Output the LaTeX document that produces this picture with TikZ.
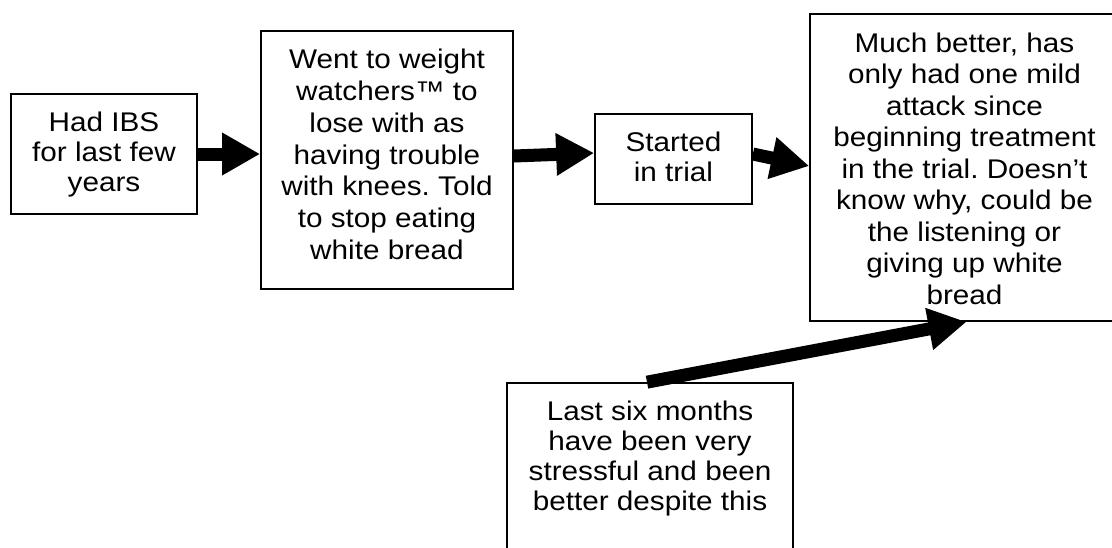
\documentclass[tikz,border=0pt]{standalone}
\usepackage{fontspec}
\setmainfont{Liberation Sans}[FakeStretch=1.1]
\usetikzlibrary{arrows.meta}
\frenchspacing
\begin{document}
\begin{tikzpicture}[x=0.5pt,y=-0.5pt,
  box/.style={draw, line width=0.85pt, rectangle, inner sep=0pt},
  txt/.style={anchor=north, align=center, inner sep=0pt,
    font=\fontsize{13.5pt}{#1}\selectfont},
  txt/.default=15pt,
  blockarrow/.style={line width=6.5pt,
    -{Triangle[length=19pt,width=20pt]}}]
\useasboundingbox (0,0) rectangle (1112,547);
\clip (0,0) rectangle (1112,547);

% boxes
\node[box, minimum width=93pt,   minimum height=60pt]   (ibs)     at (104,154)   {};
\node[box, minimum width=126pt,  minimum height=129pt]  (ww)      at (387,160)   {};
\node[box, minimum width=78.5pt, minimum height=45pt]   (trial)   at (673.5,159) {};
\node[box, minimum width=154.5pt,minimum height=153.5pt](better)  at (964.5,167.5) {};
\node[box, minimum width=143pt,  minimum height=93.5pt] (stress)  at (650,476.5) {};

% texts, hung from just below each box top
\node[txt=15pt]    (ibsT)    at ([yshift=-9.25pt]ibs.north)    {Had IBS\\for last few\\years};
\node[txt=15.9pt]  (wwT)     at ([yshift=-9.25pt]ww.north)     {Went to weight\\watchers™ to\\lose with as\\having trouble\\with knees. Told\\to stop eating\\white bread};
\node[txt=14.75pt] (trialT)  at ([yshift=-9.25pt]trial.north)  {Started\\in trial};
\node[txt=15.75pt] (betterT) at ([yshift=-9.5pt]better.north)  {Much better, has\\only had one mild\\attack since\\beginning treatment\\in the trial. Doesn’t\\know why, could be\\the listening or\\giving up white\\bread};
\node[txt=15pt]    (stressT) at ([yshift=-9pt]stress.north)    {Last six months\\have been very\\stressful and been\\better despite this};

% connectors
\draw[blockarrow] (ibs.east) -- (ibs.east -| ww.west);
\draw[blockarrow] ([yshift=2pt]ww.east) -- ([yshift=3pt]trial.west);
\draw[blockarrow] ([yshift=2.5pt]trial.east) -- ([yshift=0.75pt]better.west);
\draw[blockarrow] ([xshift=-1.5pt]stress.north) -- ([xshift=1pt]better.south);
\end{tikzpicture}
\end{document}
